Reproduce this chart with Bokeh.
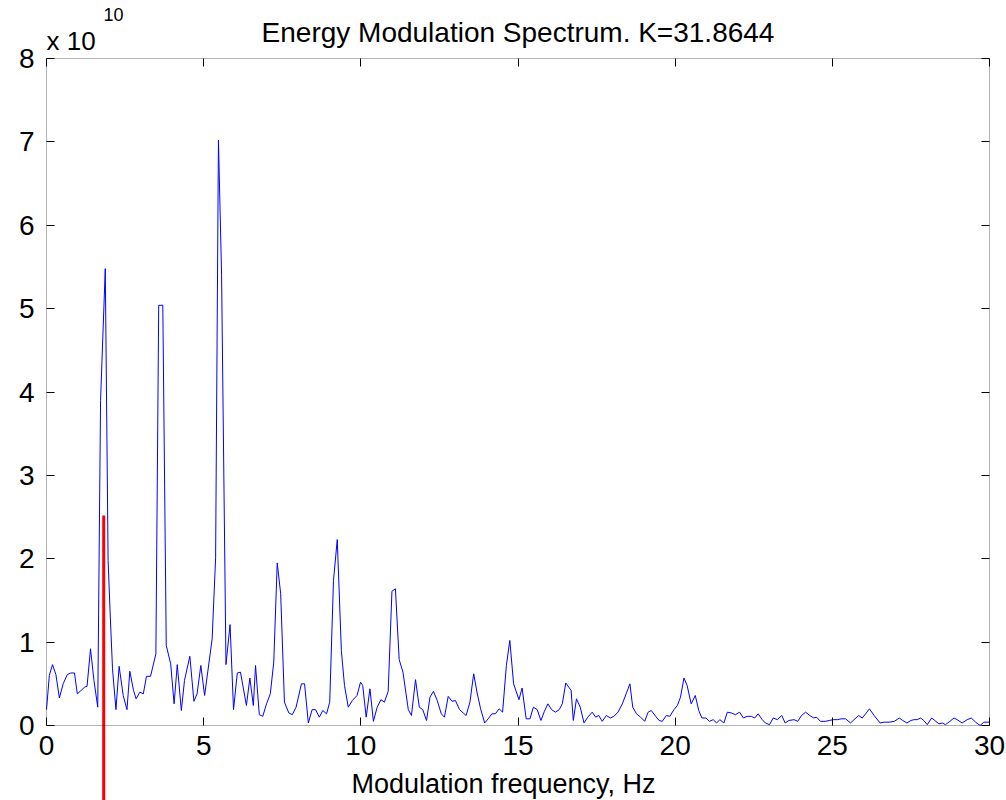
from bokeh.plotting import figure
from bokeh.models import Range1d, LinearAxis, Label, FixedTicker, BoxAnnotation
from bokeh.embed import file_html
from bokeh.resources import INLINE

# ---- data (energy in units of 1e10) ----
freq = [0.00, 0.09, 0.19, 0.30, 0.41, 0.53, 0.66, 0.77, 0.89, 0.98, 1.10, 1.21, 1.29, 1.40, 1.51, 1.63,
        1.72, 1.87, 1.96, 2.03, 2.10, 2.21, 2.31, 2.44, 2.56, 2.65, 2.77, 2.85, 2.97, 3.08, 3.18, 3.31,
        3.48, 3.57, 3.70, 3.81, 3.95, 4.06, 4.16, 4.29, 4.39, 4.56, 4.69, 4.79, 4.91, 5.03, 5.27, 5.38,
        5.47, 5.57, 5.71, 5.84, 5.95, 6.07, 6.17, 6.36, 6.47, 6.58, 6.65, 6.77, 6.88, 7.00, 7.12, 7.23,
        7.34, 7.45, 7.57, 7.71, 7.82, 7.94, 8.11, 8.21, 8.33, 8.45, 8.56, 8.68, 8.79, 8.91, 9.01, 9.13,
        9.25, 9.38, 9.48, 9.60, 9.73, 9.88, 9.99, 10.06, 10.17, 10.29, 10.40, 10.52, 10.64, 10.75, 10.87,
        10.99, 11.10, 11.22, 11.34, 11.51, 11.61, 11.74, 11.86, 11.97, 12.09, 12.20, 12.31, 12.43, 12.56,
        12.66, 12.78, 12.90, 13.01, 13.14, 13.26, 13.35, 13.47, 13.59, 13.70, 13.81, 13.94, 14.05, 14.17,
        14.28, 14.40, 14.51, 14.63, 14.74, 14.86, 15.03, 15.13, 15.26, 15.38, 15.49, 15.61, 15.73, 15.84,
        15.95, 16.07, 16.19, 16.31, 16.41, 16.52, 16.69, 16.76, 16.86, 16.98, 17.10, 17.22, 17.36, 17.47,
        17.57, 17.68, 17.81, 17.94, 18.05, 18.18, 18.32, 18.44, 18.56, 18.65, 18.77, 18.90, 19.03, 19.14,
        19.24, 19.38, 19.49, 19.59, 19.72, 19.83, 19.96, 20.07, 20.17, 20.28, 20.38, 20.51, 20.64, 20.75,
        20.85, 20.98, 21.09, 21.21, 21.32, 21.42, 21.55, 21.66, 21.79, 21.92, 22.05, 22.17, 22.29, 22.42,
        22.53, 22.64, 22.77, 22.87, 23.00, 23.12, 23.25, 23.39, 23.50, 23.62, 23.78, 23.90, 24.02, 24.15,
        24.28, 24.41, 24.50, 24.62, 24.78, 24.90, 25.03, 25.16, 25.28, 25.42, 25.58, 25.72, 25.84, 25.95,
        26.06, 26.18, 26.33, 26.52, 26.65, 26.81, 26.97, 27.13, 27.24, 27.37, 27.50, 27.60, 27.70, 27.81,
        27.91, 28.02, 28.16, 28.26, 28.39, 28.50, 28.60, 28.74, 28.87, 28.97, 29.13, 29.29, 29.42, 29.56,
        29.70, 29.82, 30.00]

energy = [0.19, 0.60, 0.73, 0.61, 0.33, 0.50, 0.61, 0.63, 0.63, 0.38, 0.42, 0.46, 0.47, 0.92, 0.54, 0.22,
          3.90, 5.48, 1.98, 1.30, 0.68, 0.19, 0.71, 0.36, 0.19, 0.65, 0.42, 0.32, 0.40, 0.38, 0.59, 0.59,
          0.86, 5.04, 5.04, 0.96, 0.74, 0.26, 0.73, 0.18, 0.54, 0.83, 0.29, 0.38, 0.72, 0.36, 1.04, 2.01,
          7.02, 5.40, 0.73, 1.21, 0.19, 0.63, 0.64, 0.24, 0.57, 0.24, 0.72, 0.13, 0.11, 0.26, 0.38, 0.76,
          1.95, 1.58, 0.28, 0.15, 0.13, 0.22, 0.50, 0.50, 0.03, 0.19, 0.19, 0.10, 0.18, 0.14, 0.28, 1.74,
          2.23, 0.90, 0.48, 0.22, 0.30, 0.36, 0.52, 0.48, 0.10, 0.44, 0.05, 0.22, 0.31, 0.28, 0.41,
          1.61, 1.64, 0.79, 0.64, 0.19, 0.12, 0.55, 0.22, 0.19, 0.06, 0.34, 0.41, 0.30, 0.14,
          0.10, 0.35, 0.29, 0.30, 0.19, 0.15, 0.12, 0.28, 0.62, 0.39, 0.20, 0.03, 0.08, 0.14,
          0.14, 0.20, 0.16, 0.72, 1.02, 0.50, 0.31, 0.45, 0.08, 0.08, 0.22, 0.19, 0.06, 0.17,
          0.26, 0.19, 0.16, 0.19, 0.26, 0.51, 0.42, 0.06, 0.32, 0.22, 0.03, 0.10, 0.16, 0.10,
          0.12, 0.05, 0.12, 0.09, 0.11, 0.16, 0.26, 0.38, 0.50, 0.22, 0.14, 0.10, 0.05, 0.16,
          0.18, 0.11, 0.06, 0.05, 0.12, 0.11, 0.19, 0.24, 0.34, 0.57, 0.48, 0.26, 0.36, 0.18,
          0.09, 0.09, 0.05, 0.07, 0.03, 0.07, 0.03, 0.16, 0.15, 0.13, 0.16, 0.09, 0.11, 0.11,
          0.09, 0.14, 0.07, 0.03, 0.01, 0.09, 0.07, 0.12, 0.03, 0.06, 0.07, 0.05, 0.12, 0.16,
          0.12, 0.09, 0.10, 0.05, 0.05, 0.06, 0.07, 0.07, 0.08, 0.08, 0.03, 0.08, 0.12, 0.09,
          0.14, 0.20, 0.12, 0.03, 0.04, 0.04, 0.05, 0.09, 0.06, 0.03, 0.06, 0.07, 0.07, 0.09,
          0.06, 0.01, 0.09, 0.06, 0.02, 0.03, 0.01, 0.05, 0.09, 0.07, 0.03, 0.07, 0.09, 0.04,
          0.00, 0.04, 0.04]

marker_freq = 1.82     # red marker position, Hz
marker_level = 2.52    # red marker height (x 1e10)

x_ticks = [0, 5, 10, 15, 20, 25, 30]
y_ticks = [0, 1, 2, 3, 4, 5, 6, 7, 8]

title_text = "Energy Modulation Spectrum. K=31.8644"
x_label = "Modulation frequency, Hz"

FONT = "Liberation Sans"

# ---- layout geometry (pixels) ----
W, H = 1006, 800
AX_LEFT_PX, AX_RIGHT_PX = 46, 989    # where x=0 and x=30 sit on the canvas
AX_TOP_PX, AX_BOTTOM_PX = 58, 725    # where y=8 and y=0 sit on the canvas
ppx = (AX_RIGHT_PX - AX_LEFT_PX) / (x_ticks[-1] - x_ticks[0])
ppy = (AX_BOTTOM_PX - AX_TOP_PX) / (y_ticks[-1] - y_ticks[0])
x_lo = x_ticks[0] - AX_LEFT_PX / ppx
x_hi = x_ticks[-1] + (W - AX_RIGHT_PX) / ppx
y_lo = y_ticks[0] - (H - AX_BOTTOM_PX) / ppy
y_hi = y_ticks[-1] + AX_TOP_PX / ppy

p = figure(width=W, height=H, output_backend="svg", toolbar_location=None,
           x_range=Range1d(x_lo, x_hi), y_range=Range1d(y_lo, y_hi),
           min_border_left=0, min_border_right=0, min_border_top=0, min_border_bottom=0,
           x_axis_location=None, y_axis_location=None)
p.grid.visible = False
p.outline_line_color = None
p.background_fill_color = "white"
p.border_fill_color = "white"


def style_axis(ax, ticks, show_labels):
    ax.ticker = FixedTicker(ticks=ticks)
    ax.major_tick_in = 8
    ax.major_tick_out = 0
    ax.minor_tick_line_color = None
    ax.axis_line_color = None
    ax.major_tick_line_color = "black"
    ax.major_label_text_font = FONT
    if show_labels:
        ax.major_label_text_font_size = "28px"
        ax.major_label_text_color = "black"
    else:
        ax.major_label_text_font_size = "1px"
        ax.major_label_text_color = None


# axes box
p.add_layout(BoxAnnotation(left=x_ticks[0], right=x_ticks[-1], bottom=y_ticks[0], top=y_ticks[-1],
                           fill_color=None, line_color="black", line_width=1))

xb = LinearAxis(fixed_location=y_ticks[0])
style_axis(xb, x_ticks, True)
xb.major_label_standoff = 10
xb.axis_label = x_label
xb.axis_label_text_font = FONT
xb.axis_label_text_font_size = "27px"
xb.axis_label_text_font_style = "normal"
xb.axis_label_text_color = "black"
xb.axis_label_standoff = 11
p.add_layout(xb, "below")

xt = LinearAxis(fixed_location=y_ticks[-1])
style_axis(xt, x_ticks, False)
p.add_layout(xt, "above")

yl = LinearAxis(fixed_location=x_ticks[0])
style_axis(yl, y_ticks, True)
yl.major_label_standoff = 12
p.add_layout(yl, "left")

yr = LinearAxis(fixed_location=x_ticks[-1])
style_axis(yr, y_ticks, False)
p.add_layout(yr, "right")

p.line(freq, energy, line_color="#0000FF", line_width=1)

p.segment(x0=[marker_freq], y0=[marker_level], x1=[marker_freq], y1=[y_lo],
          line_color="#FF0000", line_width=3)

p.add_layout(Label(x=(x_ticks[0] + x_ticks[-1]) / 2, y=y_ticks[-1], y_offset=26, text=title_text,
                   text_align="center", text_baseline="alphabetic", text_font=FONT,
                   text_font_size="28px", text_color="black"))
p.add_layout(Label(x=x_ticks[0], y=y_ticks[-1], x_offset=0, y_offset=18, text="x 10", text_align="left",
                   text_baseline="alphabetic", text_font=FONT, text_font_size="26px",
                   text_color="black"))
p.add_layout(Label(x=x_ticks[0], y=y_ticks[-1], x_offset=57, y_offset=44, text="10", text_align="left",
                   text_baseline="alphabetic", text_font=FONT, text_font_size="18px",
                   text_color="black"))

open("out.html", "w").write(file_html(p, INLINE))
